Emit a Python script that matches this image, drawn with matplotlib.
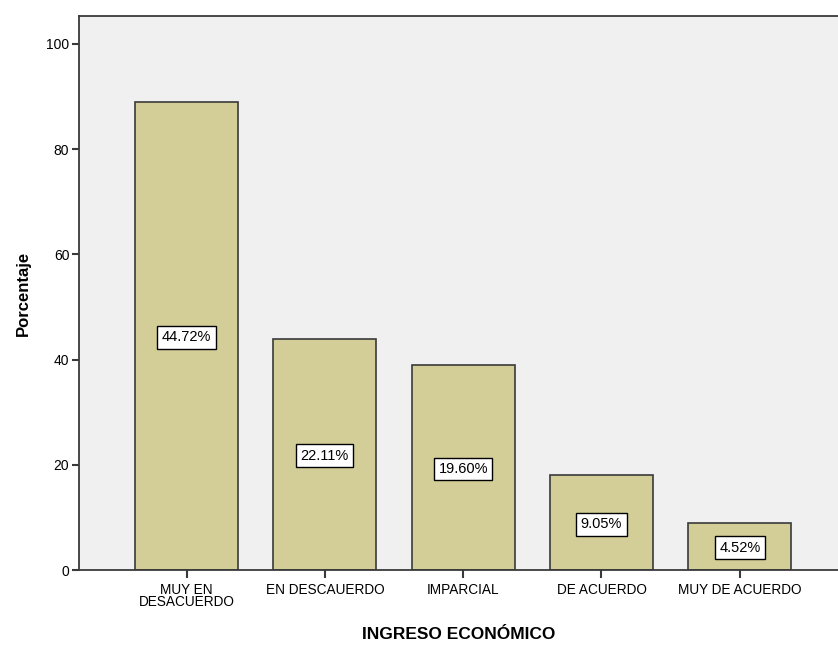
import matplotlib
matplotlib.use("Agg")
import matplotlib.pyplot as plt

categories = ["MUY EN\nDESACUERDO", "EN DESCAUERDO", "IMPARCIAL", "DE ACUERDO", "MUY DE ACUERDO"]
counts = [89, 44, 39, 18, 9]
percent_labels = ["44.72%", "22.11%", "19.60%", "9.05%", "4.52%"]

plt.rcParams["font.family"] = ["Liberation Sans", "DejaVu Sans"]

fig = plt.figure(figsize=(8.38, 6.46), dpi=100)
ax = fig.add_axes([0.0943, 0.1176, 0.9057, 0.8576])
ax.set_facecolor("#F0F0F0")

x = list(range(len(categories)))
ax.bar(x, counts, width=0.745, color="#D3CE97", edgecolor="#3A3A3A", linewidth=1.2, zorder=2)

# percentage label boxes sit at half bar height
for xi, c, lab in zip(x, counts, percent_labels):
    ax.text(xi, c / 2, lab, ha="center", va="center_baseline", fontsize=10.5, zorder=3,
            bbox=dict(boxstyle="square,pad=0.3", fc="white", ec="black", lw=1))

ax.set_xlim(-0.777, 4.71)
ax.set_ylim(0, 105.3)
ax.set_xticks(x)
ax.set_xticklabels(categories, fontsize=9.8, linespacing=0.85)
ax.set_yticks([0, 20, 40, 60, 80, 100])
ax.tick_params(axis="y", labelsize=10, length=5, width=1.5, color="#3A3A3A", pad=2)
ax.tick_params(axis="x", length=6, width=1.5, color="#3A3A3A", pad=3)

ax.spines["right"].set_visible(False)
for side in ["left", "top", "bottom"]:
    ax.spines[side].set_color("#3A3A3A")
    ax.spines[side].set_linewidth(1.3)

ax.set_xlabel("INGRESO ECONÓMICO", fontsize=12.5, fontweight="bold", labelpad=13)
ax.set_ylabel("Porcentaje", fontsize=12, fontweight="bold", labelpad=11)

fig.savefig("out.png", dpi=100)
